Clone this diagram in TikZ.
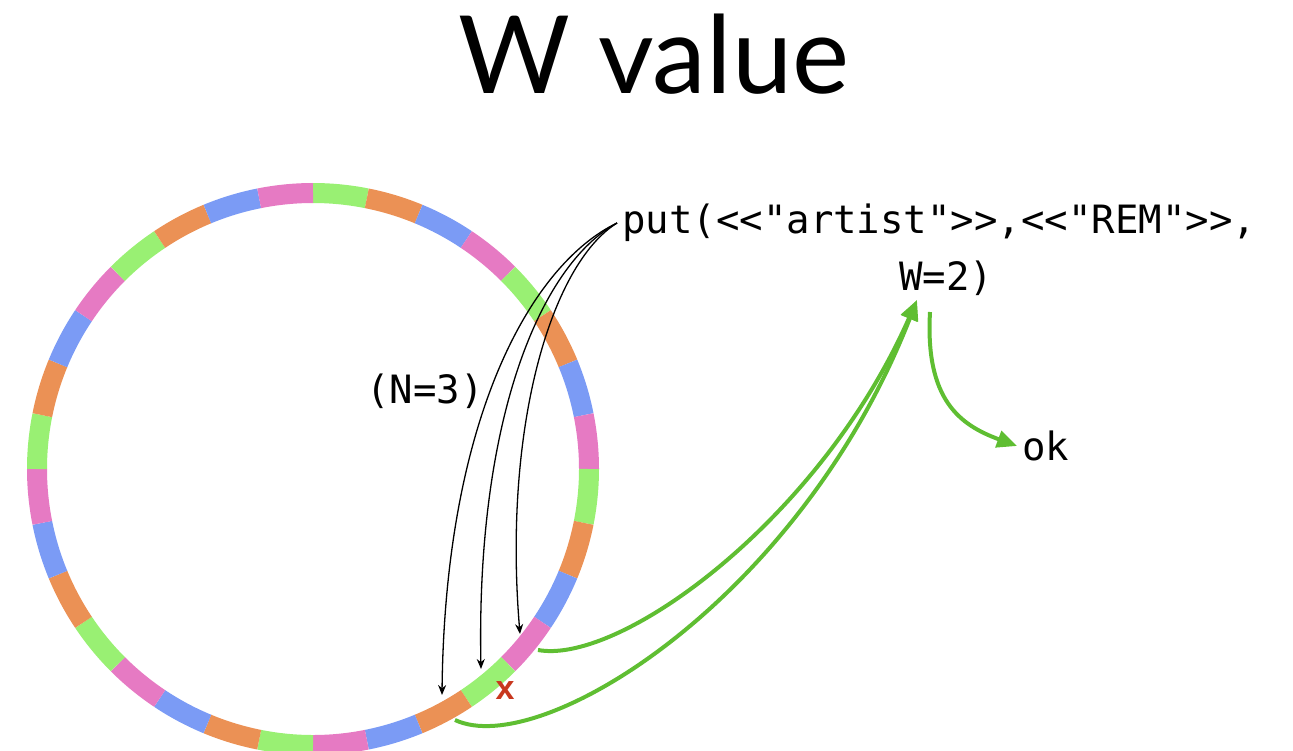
\documentclass[tikz,border=0pt]{standalone}
\usepackage{fontspec}
\usetikzlibrary{arrows.meta}
\newfontfamily\titlefont{Lato}
\newfontfamily\codefont{DejaVu Sans Mono}
\newfontfamily\xfont{Liberation Sans}
\definecolor{rgreen}{RGB}{153,240,115}
\definecolor{rorange}{RGB}{235,145,85}
\definecolor{rblue}{RGB}{123,155,245}
\definecolor{rpink}{RGB}{230,122,195}
\definecolor{agreen}{RGB}{95,190,50}
\definecolor{xred}{RGB}{200,55,30}
\begin{document}
\begin{tikzpicture}[x=1pt,y=-1pt,
  code/.style={font=\codefont\fontsize{39}{39}\selectfont, inner sep=0pt},
  blk/.style={draw=black, line width=1.3pt, -{Stealth[length=10pt,width=8pt]}},
  grn/.style={draw=agreen, line width=4pt, -{Triangle[length=20pt,width=17pt]}}]
\useasboundingbox (0,0) rectangle (1293,750);
\clip (0,0) rectangle (1293,750);
% ring
\foreach \k in {0,...,31} {
  \pgfmathtruncatemacro\m{mod(\k,4)}
  \ifcase\m \def\c{rgreen}\or \def\c{rorange}\or \def\c{rblue}\or \def\c{rpink}\fi
  \pgfmathsetmacro\a{-90+\k*11.25}
  \draw[line width=20pt, draw=\c] (313,469) ++(\a:276) arc[start angle=\a, delta angle=11.25, radius=276];
}
% title
\node[anchor=base, inner sep=0pt] (title) at (654,93) {\titlefont\fontsize{108}{108}\selectfont W value};
% texts
\node[code, anchor=base west] (p1) at (622,233) {put(<<"artist">>,<<"REM">>,};
\node[code, anchor=base] (w2) at (946,290) {W=2)};
\node[code, anchor=base] (n3) at (425,403) {(N=3)};
\node[code, anchor=base west] (ok) at (1022,460) {ok};
\node[text=xred, inner sep=0pt] (x) at (505,691) {\xfont\bfseries\fontsize{34}{34}\selectfont x};
% coordinates on ring
\coordinate (s) at (617,223);
\coordinate (t1) at (442,695);
\coordinate (t2) at (481,669);
\coordinate (t3) at (520,634);
\coordinate (g1) at (538,650);
\coordinate (g2) at (455,720);
\coordinate (wtip) at (917,300);
\coordinate (wout) at (930,312);
\coordinate (oktip) at (1017,446);
% black arrows
\draw[blk] (s) .. controls (530,265) and (445,420) .. (t1);
\draw[blk] (s) .. controls (540,265) and (476,420) .. (t2);
\draw[blk] (s) .. controls (550,265) and (503,430) .. (t3);
% green arrows
\draw[grn] (g1) .. controls (620,665) and (820,520) .. (wtip);
\draw[grn] (g2) .. controls (540,760) and (800,600) .. (wtip);
\draw[grn] (wout) .. controls (925,400) and (960,425) .. (oktip);
\end{tikzpicture}
\end{document}
